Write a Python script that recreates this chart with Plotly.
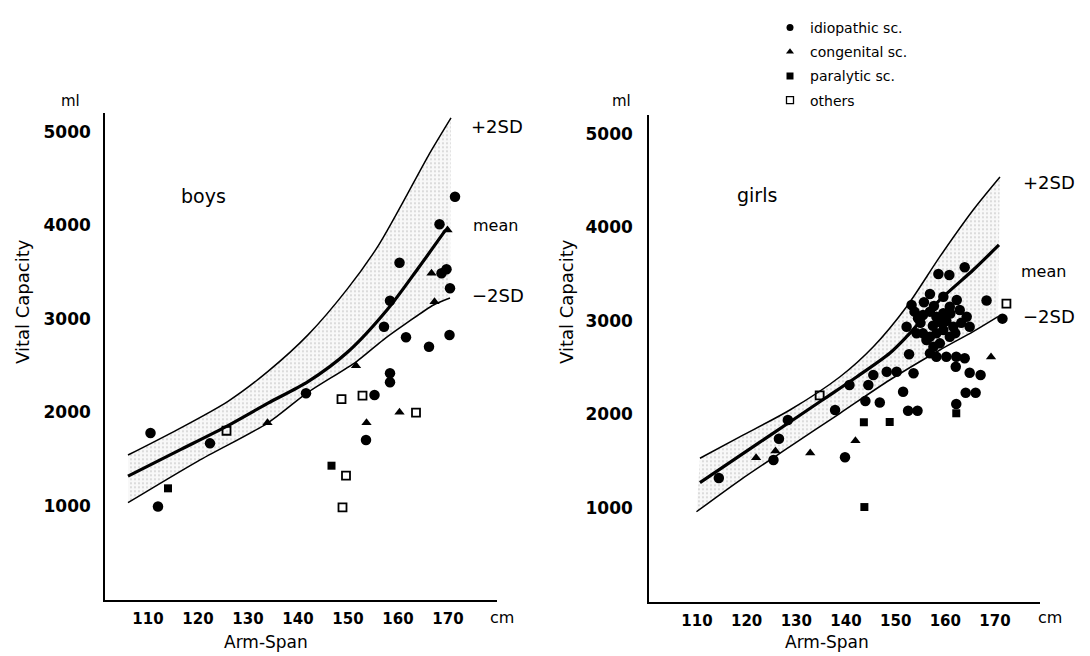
import plotly.graph_objects as go

# ---- data: arm-span (cm) vs vital capacity (ml) ----
# boys
boys_idio_cm = [110.5, 112.0, 122.4, 141.6, 153.6, 155.3, 157.2, 158.4, 158.4, 158.4,
                160.3, 161.6, 166.2, 168.3, 168.7, 169.7, 170.3, 170.4, 171.4]
boys_idio_ml = [1780, 995, 1670, 2205, 1706, 2187, 2918, 3196, 2419, 2323,
                3602, 2804, 2704, 4013, 3489, 3532, 2829, 3328, 4308]
boys_cong_cm = [133.9, 151.6, 153.7, 160.3, 166.7, 167.3, 169.9]
boys_cong_ml = [1891, 2500, 1891, 2002, 3489, 3185, 3952]
boys_para_cm = [114.0, 146.7]
boys_para_ml = [1189, 1431]
boys_other_cm = [125.7, 148.7, 152.9, 163.6, 149.6, 148.9]
boys_other_ml = [1805, 2144, 2180, 1998, 1324, 986]

# boys reference curves
boys_up_cm = [106, 116, 126, 134, 142, 150, 156, 161, 166, 170.6]
boys_up_ml = [1545, 1820, 2120, 2440, 2830, 3330, 3780, 4250, 4740, 5150]
boys_mean_cm = [106, 116, 126, 134, 142, 150, 158, 164, 169.5]
boys_mean_ml = [1320, 1590, 1860, 2100, 2330, 2650, 3110, 3540, 3950]
boys_lo_cm = [106, 120, 134, 141.7, 151.7, 157, 161.7, 167.1, 170.4]
boys_lo_ml = [1035, 1480, 1890, 2205, 2545, 2775, 2955, 3150, 3225]

# girls
girls_idio_cm = [114.4, 125.4, 126.5, 128.3, 137.8, 139.8, 140.7, 143.9, 144.5, 145.5,
                 146.8, 148.2, 150.2, 151.5, 152.5, 154.4, 153.6, 152.7, 160.2, 162.2,
                 163.9, 162.1, 164.9, 167.1, 164.1, 166.1, 162.2, 168.3, 171.5, 158.6,
                 160.8, 163.9, 156.9,
                 153.2, 152.2, 154.5, 155.5, 156.9, 158.2, 159.6, 160.9, 162.3, 162.9,
                 164.3, 164.9, 155.5, 156.9, 158.2, 159.6, 160.9, 158.9, 157.6, 156.2,
                 154.2, 161.6, 159.6, 156.9, 158.2,
                 153.8, 155.0, 157.5, 159.0, 160.2, 161.0, 157.7, 155.7, 162.0, 163.2]
girls_idio_ml = [1320, 1513, 1740, 1941, 2048, 1542, 2316, 2144, 2316, 2422,
                 2128, 2458, 2458, 2244, 2040, 2040, 2441, 2645, 2618, 2618,
                 2601, 2511, 2447, 2422, 2233, 2233, 2112, 3220, 3025, 3503,
                 3492, 3574, 3289,
                 3171, 2939, 3029, 3064, 3100, 3046, 3082, 3153, 3225, 3118,
                 3046, 2939, 2868, 2832, 2868, 2904, 2832, 2761, 2725, 2797,
                 2868, 2939, 3260, 2654, 2618,
                 3100, 2980, 2950, 2990, 3000, 3080, 3160, 3200, 2870, 2980]
girls_cong_cm = [121.9, 125.8, 132.8, 141.9, 169.2]
girls_cong_ml = [1538, 1610, 1588, 1718, 2615]
girls_para_cm = [143.6, 148.8, 143.7, 162.2]
girls_para_ml = [1917, 1920, 1010, 2013]
girls_other_cm = [134.7, 172.3]
girls_other_ml = [2205, 3185]

# girls reference curves
girls_up_cm = [110.6, 118.7, 128.7, 138.8, 145.5, 152.2, 158.9, 165.6, 171]
girls_up_ml = [1532, 1763, 2048, 2404, 2725, 3153, 3688, 4187, 4540]
girls_mean_cm = [110.6, 122, 128.7, 135.4, 142.2, 148.8, 152.2, 158.9, 165.6, 170.8]
girls_mean_ml = [1271, 1680, 1920, 2160, 2404, 2655, 2832, 3225, 3545, 3813]
girls_lo_cm = [109.9, 118.7, 128.7, 138.8, 148.8, 158.9, 165.6, 170.6]
girls_lo_ml = [960, 1299, 1656, 2013, 2369, 2690, 2886, 3046]

x_ticks = [110, 120, 130, 140, 150, 160, 170]
y_ticks = [1000, 2000, 3000, 4000, 5000]

categories = ["idiopathic sc.", "congenital sc.", "paralytic sc.", "others"]

W, H = 1090, 656
TXT = "DejaVu Sans"
TICK = "DejaVu Sans"


def px(x):
    return x / W


def py(y):
    return 1 - y / H


fig = go.Figure()

marker_styles = {
    "idiopathic sc.": dict(symbol="circle", size=10.5, color="black"),
    "congenital sc.": dict(symbol="triangle-up", size=9, color="black"),
    "paralytic sc.": dict(symbol="square", size=8, color="black"),
    "others": dict(symbol="square-open", size=8, color="black", line=dict(width=1.8, color="black")),
}


def add_band(xa, ya, up, mean, lo):
    # stippled band between -2SD and +2SD, with the mean drawn bold
    fig.add_trace(go.Scatter(x=lo[0], y=lo[1], xaxis=xa, yaxis=ya, mode="lines",
                             line=dict(color="black", width=1.5, shape="spline", smoothing=0.8),
                             showlegend=False, hoverinfo="skip"))
    fig.add_trace(go.Scatter(x=up[0], y=up[1], xaxis=xa, yaxis=ya, mode="lines",
                             line=dict(color="black", width=1.5, shape="spline", smoothing=0.8),
                             fill="tonexty", fillcolor="#f6f6f6",
                             fillpattern=dict(shape=".", size=4, solidity=0.18,
                                              fgcolor="#a8a8a8", bgcolor="#f8f8f8"),
                             showlegend=False, hoverinfo="skip"))
    fig.add_trace(go.Scatter(x=mean[0], y=mean[1], xaxis=xa, yaxis=ya, mode="lines",
                             line=dict(color="black", width=3.2, shape="spline", smoothing=0.8),
                             showlegend=False, hoverinfo="skip"))


add_band("x", "y", (boys_up_cm, boys_up_ml), (boys_mean_cm, boys_mean_ml), (boys_lo_cm, boys_lo_ml))
add_band("x2", "y2", (girls_up_cm, girls_up_ml), (girls_mean_cm, girls_mean_ml), (girls_lo_cm, girls_lo_ml))

boys_sets = [(boys_idio_cm, boys_idio_ml), (boys_cong_cm, boys_cong_ml),
             (boys_para_cm, boys_para_ml), (boys_other_cm, boys_other_ml)]
girls_sets = [(girls_idio_cm, girls_idio_ml), (girls_cong_cm, girls_cong_ml),
              (girls_para_cm, girls_para_ml), (girls_other_cm, girls_other_ml)]

for cat, (bx, by), (gx, gy) in zip(categories, boys_sets, girls_sets):
    st = marker_styles[cat]
    fig.add_trace(go.Scatter(x=bx, y=by, xaxis="x", yaxis="y", mode="markers",
                             marker=st, name=cat, legendgroup=cat, showlegend=False))
    fig.add_trace(go.Scatter(x=gx, y=gy, xaxis="x2", yaxis="y2", mode="markers",
                             marker=st, name=cat, legendgroup=cat, showlegend=False))
    # legend entry with a smaller symbol
    leg = dict(st)
    leg["size"] = 7
    if cat == "others":
        leg["line"] = dict(width=1.3, color="black")
    fig.add_trace(go.Scatter(x=[None], y=[None], xaxis="x2", yaxis="y2", mode="markers",
                             marker=leg, name=cat, legendgroup=cat, showlegend=True))

axis_common = dict(showgrid=False, zeroline=False, showline=True, linecolor="black",
                   linewidth=1.6, ticks="", mirror=False)
xtick_font = dict(family=TICK, size=15, color="black", weight="bold")
ytick_font = dict(family=TICK, size=17, color="black", weight="bold")

fig.update_layout(
    width=W, height=H,
    margin=dict(l=0, r=0, t=0, b=0),
    paper_bgcolor="white", plot_bgcolor="white",
    font=dict(family=TXT, color="black"),
    xaxis=dict(domain=[px(105), px(497)], range=[101.4, 179.8], tickvals=x_ticks,
               tickfont=xtick_font, ticklabelstandoff=5, anchor="y", **axis_common),
    yaxis=dict(domain=[py(599.5), py(113.3)], range=[0, 5200], tickvals=y_ticks,
               tickfont=ytick_font, ticklabelstandoff=9, anchor="x", **axis_common),
    xaxis2=dict(domain=[px(649), px(1040)], range=[100.34, 179.06], tickvals=x_ticks,
                tickfont=xtick_font, ticklabelstandoff=5, anchor="y2", **axis_common),
    yaxis2=dict(domain=[py(601.5), py(115.3)], range=[0, 5200], tickvals=y_ticks,
                tickfont=ytick_font, ticklabelstandoff=11, anchor="x2", **axis_common),
    legend=dict(x=px(770), y=py(12), xanchor="left", yanchor="top",
                font=dict(family=TXT, size=14, color="black"),
                tracegroupgap=3, itemwidth=30, bgcolor="rgba(0,0,0,0)"),
)


def label(text, x, y, size=16, xanchor="center", angle=0):
    fig.add_annotation(text=text, x=px(x), y=py(y), xref="paper", yref="paper",
                       showarrow=False, xanchor=xanchor, yanchor="middle",
                       font=dict(family=TXT, size=size, color="black"), textangle=angle)


# panel labels and axis titles
label("boys", 203, 196, 19)
label("girls", 757, 195, 19)
label("Vital Capacity", 22, 302, 18, angle=-90)
label("Vital Capacity", 566, 302, 18, angle=-90)
label("Arm-Span", 266, 642, 17)
label("Arm-Span", 827, 642, 17)
label("cm", 502, 617, 16)
label("cm", 1050, 617, 16)
label("ml", 70, 101, 15)
label("ml", 621, 101, 15)

# curve labels
label("+2SD", 469, 126, 18, xanchor="left")
label("mean", 471, 226, 16, xanchor="left")
label("\u22122SD", 470, 295, 18, xanchor="left")
label("+2SD", 1021, 182, 18, xanchor="left")
label("mean", 1019, 271, 16, xanchor="left")
label("\u22122SD", 1021, 316, 18, xanchor="left")

fig.write_html("out.html")
